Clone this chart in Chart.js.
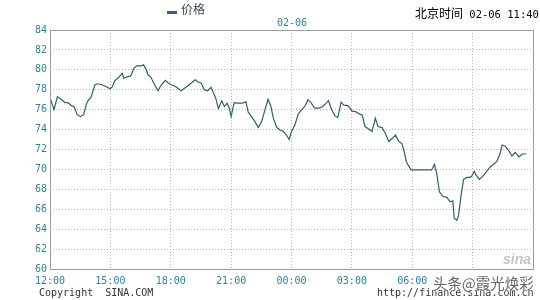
<!DOCTYPE html>
<html>
<head>
<meta charset="utf-8">
<script src="https://cdn.jsdelivr.net/npm/chart.js@4.4.0/dist/chart.umd.min.js"></script>
<style>
  html,body{margin:0;padding:0;background:#fff;}
  #wrap{position:relative;width:540px;height:300px;overflow:hidden;}
  canvas{position:absolute;left:0;top:0;}
  .t{position:absolute;white-space:pre;line-height:1;}
  .mono{font-family:"DejaVu Sans Mono",monospace;font-size:10px;}
  .cjk{font-family:"Noto Sans CJK SC",sans-serif;}
</style>
</head>
<body>
<div id="wrap">
  <canvas id="c" width="540" height="300"></canvas>
  <div class="t" style="left:167px;top:11px;width:10px;height:3px;background:#2e6878;"></div>
  <div class="t cjk" style="left:181px;top:3px;font-size:12px;color:#3c4a55;">价格</div>
  <div class="t mono" style="left:277px;top:18px;color:#30809a;">02-06</div>
  <div class="t" style="left:415px;top:5px;"><span class="cjk" style="font-size:12px;color:#000;">北京时间</span><span class="mono" style="font-size:10.5px;color:#000;"> 02-06 11:40</span></div>
  <div class="t mono" style="left:39px;top:288px;color:#333;">Copyright  SINA.COM</div>
  <div class="t mono" style="left:377px;top:288px;color:#333;">http://finance.sina.com.cn</div>
  <div class="t" style="left:503px;top:252px;font-family:'Liberation Sans',sans-serif;font-weight:bold;font-style:italic;font-size:14px;color:#c4c4c4;">sina</div>
  <div class="t cjk" style="left:433px;top:276px;font-size:14.5px;color:rgba(70,70,80,0.85);text-shadow:0 0 2px #fff,0 0 2px #fff;">头条@霞光焕彩</div>
</div>
<script>
const times = ["12:00","12:12","12:22","12:35","12:45","12:54","13:04","13:12","13:21","13:31","13:40","13:49","13:55","14:02","14:14","14:22","14:34","14:48","14:59","15:06","15:13","15:25","15:35","15:40","15:51","16:01","16:10","16:19","16:32","16:39","16:47","16:52","17:00","17:12","17:22","17:30","17:44","17:52","18:01","18:11","18:21","18:31","18:41","18:51","19:01","19:13","19:20","19:31","19:40","19:50","20:00","20:08","20:15","20:22","20:32","20:40","20:48","20:55","21:00","21:09","21:19","21:34","21:44","21:51","22:01","22:11","22:21","22:31","22:41","22:50","22:58","23:06","23:16","23:26","23:36","23:46","23:53","00:00","00:10","00:20","00:30","00:39","00:49","00:59","01:09","01:22","01:32","01:42","01:50","02:00","02:09","02:18","02:28","02:36","02:48","03:01","03:11","03:21","03:31","03:39","03:50","04:00","04:10","04:18","04:30","04:40","04:50","05:00","05:10","05:20","05:29","05:36","05:42","05:56","06:58","07:06","07:13","07:21","07:31","07:43","07:53","08:01","08:05","08:13","08:18","08:25","08:33","08:43","08:52","08:57","09:05","09:10","09:20","09:30","09:42","09:54","10:05","10:12","10:22","10:28","10:37","10:49","10:57","11:07","11:18","11:28","11:40"];
const prices = [77.2,76.0,77.3,77.0,76.7,76.7,76.4,76.3,75.5,75.3,75.5,76.6,77.0,77.2,78.5,78.6,78.5,78.3,78.1,78.3,78.9,79.25,79.65,79.15,79.3,79.4,80.15,80.4,80.4,80.5,80.0,79.5,79.3,78.5,77.9,78.4,78.95,78.7,78.5,78.4,78.15,77.9,78.15,78.4,78.65,79.0,78.8,78.65,78.0,77.9,78.25,77.65,77.05,76.1,76.9,76.3,76.65,76.1,75.3,76.7,76.65,76.65,76.8,75.75,75.3,74.8,74.2,74.8,76.0,77.05,76.4,75.15,74.2,73.95,73.8,73.4,73.0,73.8,74.45,75.55,76.0,76.3,77.0,76.65,76.15,76.15,76.3,76.6,76.9,76.0,75.4,75.2,76.75,76.45,76.4,75.85,75.8,75.6,75.45,74.3,74.05,73.8,75.15,74.3,74.2,73.6,72.8,73.1,73.45,72.8,72.6,71.8,70.8,69.95,69.95,70.5,69.6,67.75,67.3,67.2,66.75,66.85,65.1,64.9,65.4,67.25,69.0,69.2,69.2,69.3,69.8,69.45,69.0,69.3,69.8,70.3,70.6,70.8,71.6,72.45,72.35,71.8,71.35,71.7,71.25,71.55,71.55];
const xTickLabels = ["12:00","15:00","18:00","21:00","00:00","03:00","06:00","",""];
const yMin = 60, yMax = 84, yStep = 2;

function toMinutes(t){
  const [h,m] = t.split(":").map(Number);
  return ((h*60+m) - 720 + 1440) % 1440;
}
const points = times.map((t,i)=>({x:toMinutes(t), y:prices[i]}));

const teal = "#30809a";
const frame = {
  id:"frame",
  afterDraw(chart){
    const {ctx, chartArea:a} = chart;
    ctx.save();
    ctx.strokeStyle = "#9a9a9a";
    ctx.lineWidth = 1;
    ctx.setLineDash([]);
    ctx.strokeRect(Math.round(a.left)+0.5, Math.round(a.top)+0.5, Math.round(a.right-a.left), Math.round(a.bottom-a.top));
    ctx.restore();
  }
};

new Chart(document.getElementById("c"), {
  type:"line",
  data:{datasets:[{
    label:"价格",
    data:points,
    borderColor:"#2f5f6a",
    borderWidth:1.2,
    pointRadius:0,
    tension:0,
    fill:false
  }]},
  options:{
    responsive:false,
    animation:false,
    devicePixelRatio:1,
    layout:{padding:{top:30,right:7,left:0,bottom:0}},
    plugins:{legend:{display:false},tooltip:{enabled:false},title:{display:false}},
    scales:{
      x:{
        type:"linear",
        min:0,max:1440,
        afterFit(s){ s.height = 31; },
        afterBuildTicks(s){ s.ticks = xTickLabels.map((_,i)=>({value:i*180})); },
        ticks:{
          stepSize:180,
          autoSkip:false,
          maxRotation:0,
          padding:6,
          color:teal,
          font:{family:"DejaVu Sans Mono",size:10},
          callback(v){ return xTickLabels[Math.round(v/180)] ?? ""; }
        },
        grid:{color:"#b4b4b4",lineWidth:1,drawTicks:false},
        border:{display:false,dash:[1,2]}
      },
      y:{
        min:yMin,max:yMax,
        afterFit(s){ s.width = 50; },
        ticks:{
          stepSize:yStep,
          padding:3,
          color:teal,
          font:{family:"DejaVu Sans Mono",size:10}
        },
        grid:{color:"#b4b4b4",lineWidth:1,drawTicks:false},
        border:{display:false,dash:[1,2]}
      }
    }
  },
  plugins:[frame]
});
</script>
</body>
</html>
